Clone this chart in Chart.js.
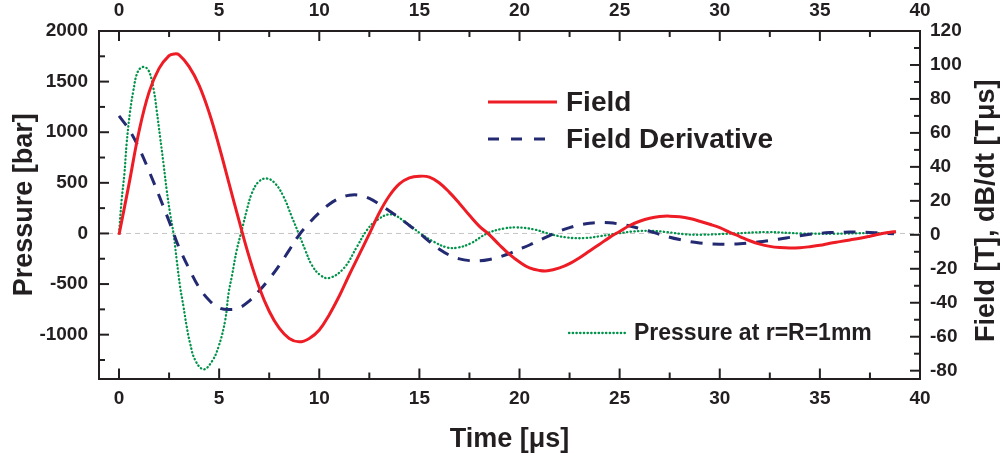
<!DOCTYPE html>
<html>
<head>
<meta charset="utf-8">
<title>Field, field derivative and pressure</title>
<script src="https://cdn.jsdelivr.net/npm/chart.js@4.4.0/dist/chart.umd.min.js"></script>
<style>
  html, body { margin: 0; padding: 0; background: #fff; }
  #wrap { width: 1003px; height: 466px; }
</style>
</head>
<body>
<div id="wrap"><canvas id="pulse-canvas" width="1003" height="466"></canvas></div>
<script>
// Field [T] (right axis)
var fieldTime   = [0, 0.5, 1, 1.5, 2, 2.5, 2.75, 3, 3.5, 4, 4.5, 5, 5.5, 6, 6.5, 7, 7.5, 8, 8.5, 9, 9.5, 10, 10.5, 11, 11.5, 12, 12.5, 13, 13.5, 14, 14.5, 15, 15.5, 16, 16.5, 17, 17.5, 18, 18.5, 19, 19.5, 20, 20.5, 21, 21.4, 22, 22.5, 23, 23.5, 24, 24.5, 25, 25.5, 26, 26.5, 27, 27.5, 28, 28.5, 29, 29.5, 30, 30.5, 31, 31.5, 32, 32.5, 33, 33.5, 34, 34.5, 35, 35.5, 36, 36.5, 37, 37.5, 38, 38.5, 38.8];
var fieldValues = [0, 30, 61, 84, 98, 105.5, 106.5, 106, 99, 88, 72, 52, 30, 8, -13, -31, -45, -55, -61, -63, -61, -56, -47, -36, -23.5, -11.5, 0.5, 13, 23, 30, 33.5, 34.5, 34, 30.5, 25, 18.5, 11.5, 5, 0, -6, -11.5, -16, -19.5, -21, -21.2, -19.5, -17, -13.5, -9.5, -5.5, -1.5, 2, 5.5, 8, 9.8, 10.8, 11, 10.6, 9.6, 8, 6.2, 4.2, 1.5, -1, -3.5, -5.5, -6.8, -7.5, -7.8, -7.6, -7, -6.2, -5, -4, -3, -2, -0.8, 0.5, 1.5, 2];

// dB/dt [T/us] (right axis)
var derivTime   = [0, 0.5, 1, 1.5, 2, 2.5, 2.75, 3, 3.5, 4, 4.5, 5, 5.5, 6, 6.5, 7, 7.5, 8, 8.5, 9, 9.5, 10, 10.5, 11, 11.5, 12, 12.5, 13, 13.5, 14, 14.5, 15, 15.5, 16, 16.5, 17, 17.5, 18, 18.5, 19, 19.5, 20, 20.5, 21, 21.5, 22, 22.5, 23, 23.5, 24, 24.5, 25, 25.5, 26, 26.5, 27, 27.5, 28, 28.5, 29, 29.5, 30, 30.5, 31, 31.5, 32, 32.5, 33, 33.5, 34, 34.5, 35, 35.5, 36, 36.5, 37, 37.5, 38, 38.7];
var derivValues = [70, 62, 51, 37.5, 23, 8, 0, -7.5, -20, -31, -38.5, -43, -44, -43, -39, -33, -26, -18, -9, 0, 7, 13, 18, 21.5, 23.3, 23.3, 21.5, 18, 14, 10, 5.5, 1, -4, -8.5, -12, -14.2, -15.2, -15.3, -14.5, -13, -11, -8.5, -6, -3.2, -0.5, 2.2, 4.2, 5.8, 6.8, 7.3, 7.1, 6.3, 5.2, 3.7, 2.1, 0.3, -1.4, -2.8, -4, -4.8, -5.3, -5.5, -5.5, -5.3, -4.8, -4.1, -3.3, -2.5, -1.5, -0.5, 0.3, 0.9, 1.3, 1.5, 1.6, 1.6, 1.4, 1.1, 0.6];

// Pressure [bar] at r=R=1mm (left axis)
var pressTime   = [0, 0.13, 0.27, 0.38, 0.55, 0.72, 0.93, 1.2, 1.47, 1.72, 1.88, 2.05, 2.22, 2.38, 2.55, 2.72, 2.88, 3.05, 3.22, 3.38, 3.55, 3.8, 4.22, 4.63, 4.97, 5.3, 5.47, 5.63, 5.88, 6.13, 6.38, 6.63, 6.97, 7.38, 7.8, 8.22, 8.63, 8.97, 9.3, 9.63, 10.05, 10.5, 11.22, 11.88, 12.38, 12.88, 13.6, 14.38, 15.05, 15.72, 16.38, 16.88, 17.55, 18.38, 19.22, 19.88, 20.72, 21.55, 22.38, 23.22, 24.05, 24.88, 25.72, 26.55, 27.38, 28.22, 29.05, 30.72, 32.38, 34.05, 35.72, 37.38, 38.72];
var pressValues = [0, 329, 592, 888, 1200, 1415, 1595, 1645, 1612, 1431, 1217, 954, 691, 428, 197, 0, -263, -526, -724, -921, -1086, -1250, -1342, -1267, -1119, -860, -592, -428, -164, 33, 230, 395, 510, 543, 493, 362, 164, 0, -164, -312, -411, -440, -345, -132, 33, 132, 188, 99, 0, -82, -138, -141, -99, 0, 49, 59, 40, -7, -40, -46, -26, 0, 20, 26, 13, -7, -13, 0, 13, 0, -3, 3, 3];

// axis ticks
var timeTicks  = [0, 5, 10, 15, 20, 25, 30, 35, 40];
var timeMinor  = [2.5, 7.5, 12.5, 17.5, 22.5, 27.5, 32.5, 37.5];
var pressTicks = [-1000, -500, 0, 500, 1000, 1500, 2000];
var pressMinor = [-1250, -750, -250, 250, 750, 1250, 1750];
var fieldTicks = [-80, -60, -40, -20, 0, 20, 40, 60, 80, 100, 120];
var fieldMinor = [-70, -50, -30, -10, 10, 30, 50, 70, 90, 110];

var INK = '#231f20';
var FONT = 'Liberation Sans, Arial, Helvetica, sans-serif';
var rightTitle = 'Field [T], dB/dt [T\u03bcs]';

function toPoints(xs, ys) {
    return xs.map(function (x, i) { return {x: x, y: ys[i]}; });
}

function fixedTicks(values) {
    return function (scale) {
        scale.ticks = values.map(function (v) { return {value: v}; });
    };
}

function plain(v) { return String(v); }

// dashed grey line at zero
var zeroLine = {
    id: 'zeroLine',
    beforeDatasetsDraw: function (chart) {
        var ctx = chart.ctx, a = chart.chartArea;
        var y = chart.scales.yPress.getPixelForValue(0);
        ctx.save();
        ctx.strokeStyle = '#c4c4c4';
        ctx.lineWidth = 1;
        ctx.setLineDash([5, 4]);
        ctx.beginPath();
        ctx.moveTo(a.left, y);
        ctx.lineTo(a.right, y);
        ctx.stroke();
        ctx.restore();
    }
};

// tick marks pointing into the plot, plus the right-hand title read bottom to top
var innerTicks = {
    id: 'innerTicks',
    afterDraw: function (chart) {
        var ctx = chart.ctx, a = chart.chartArea, s = chart.scales;
        ctx.save();
        ctx.strokeStyle = INK;
        ctx.lineWidth = 2;
        function marks(scale, values, len, side) {
            values.forEach(function (v) {
                var p = scale.getPixelForValue(v);
                ctx.beginPath();
                if (side === 'bottom') { ctx.moveTo(p, a.bottom); ctx.lineTo(p, a.bottom - len); }
                if (side === 'top')    { ctx.moveTo(p, a.top);    ctx.lineTo(p, a.top + len); }
                if (side === 'left')   { ctx.moveTo(a.left, p);   ctx.lineTo(a.left + len, p); }
                if (side === 'right')  { ctx.moveTo(a.right, p);  ctx.lineTo(a.right - len, p); }
                ctx.stroke();
            });
        }
        marks(s.x, timeTicks, 10, 'bottom');
        marks(s.x, timeMinor, 6, 'bottom');
        marks(s.xTop, timeTicks, 10, 'top');
        marks(s.xTop, timeMinor, 6, 'top');
        marks(s.yPress, pressTicks, 10, 'left');
        marks(s.yPress, pressMinor, 6, 'left');
        marks(s.yField, fieldTicks, 10, 'right');
        marks(s.yField, fieldMinor, 6, 'right');

        ctx.translate(s.yField.right - 16, (a.top + a.bottom) / 2 + 6);
        ctx.rotate(-Math.PI / 2);
        ctx.fillStyle = INK;
        ctx.font = 'bold 27px ' + FONT;
        ctx.textAlign = 'center';
        ctx.textBaseline = 'middle';
        ctx.fillText(rightTitle, 0, 0);
        ctx.restore();
    }
};

// the two legend boxes inside the plot
var legendBoxes = {
    id: 'legendBoxes',
    afterDatasetsDraw: function (chart) {
        var ctx = chart.ctx, ds = chart.data.datasets;
        function entry(d, x1, x2, y, label, dash, size) {
            ctx.save();
            ctx.strokeStyle = d.borderColor;
            ctx.lineWidth = d.borderWidth;
            ctx.lineCap = d.borderCapStyle || 'butt';
            ctx.setLineDash(dash);
            ctx.beginPath();
            ctx.moveTo(x1, y);
            ctx.lineTo(x2, y);
            ctx.stroke();
            ctx.setLineDash([]);
            ctx.fillStyle = INK;
            ctx.font = 'bold ' + size + 'px ' + FONT;
            ctx.textBaseline = 'middle';
            ctx.textAlign = 'left';
            ctx.fillText(label, x2 + 9, y + 1);
            ctx.restore();
        }
        entry(ds[0], 488, 557, 102, ds[0].label, [], 28);
        entry(ds[1], 488, 557, 139, ds[1].label, [11, 12], 28);
        entry(ds[2], 569, 625, 333, ds[2].label, [0.4, 3.3], 23);
    }
};

var tickFont = {family: FONT, size: 19, weight: 'bold'};
var titleFont = {family: FONT, size: 27, weight: 'bold'};
var frame = {display: true, color: INK, width: 2};

new Chart(document.getElementById('pulse-canvas'), {
    type: 'line',
    data: {
        datasets: [
            {
                label: 'Field',
                data: toPoints(fieldTime, fieldValues),
                yAxisID: 'yField',
                borderColor: '#ee1c25',
                borderWidth: 3,
                pointRadius: 0,
                fill: false,
                tension: 0.4
            },
            {
                label: 'Field Derivative',
                data: toPoints(derivTime, derivValues),
                yAxisID: 'yField',
                borderColor: '#232a72',
                borderWidth: 3,
                borderDash: [12, 10],
                pointRadius: 0,
                fill: false,
                tension: 0.4
            },
            {
                label: 'Pressure at r=R=1mm',
                data: toPoints(pressTime, pressValues),
                yAxisID: 'yPress',
                borderColor: '#00934a',
                borderWidth: 2.3,
                borderCapStyle: 'round',
                borderDash: [0.4, 3.3],
                pointRadius: 0,
                fill: false,
                tension: 0.4
            }
        ]
    },
    options: {
        responsive: false,
        animation: false,
        layout: {padding: 0},
        plugins: {legend: {display: false}, tooltip: {enabled: false}},
        scales: {
            x: {
                type: 'linear', position: 'bottom', min: -1, max: 40,
                afterBuildTicks: fixedTicks(timeTicks),
                afterFit: function (scale) { scale.height = 87.5; },
                grid: {display: false, drawTicks: false},
                border: frame,
                ticks: {font: tickFont, color: INK, padding: 9, maxRotation: 0, callback: plain},
                title: {display: true, text: 'Time [\u03bcs]', font: titleFont, color: INK, padding: {top: 0, bottom: 10}}
            },
            xTop: {
                type: 'linear', position: 'top', min: -1, max: 40,
                afterBuildTicks: fixedTicks(timeTicks),
                afterFit: function (scale) { scale.height = 31; },
                grid: {display: false, drawTicks: false},
                border: frame,
                ticks: {font: tickFont, color: INK, padding: 9, maxRotation: 0, callback: plain}
            },
            yPress: {
                type: 'linear', position: 'left', min: -1433, max: 2000,
                afterBuildTicks: fixedTicks(pressTicks),
                afterFit: function (scale) { scale.width = 99; },
                grid: {display: false, drawTicks: false},
                border: frame,
                ticks: {font: tickFont, color: INK, padding: 11, callback: plain},
                title: {display: true, text: 'Pressure [bar]', font: titleFont, color: INK, padding: {top: 8, bottom: 0}}
            },
            yField: {
                type: 'linear', position: 'right', min: -84.6, max: 120,
                afterBuildTicks: fixedTicks(fieldTicks),
                afterFit: function (scale) { scale.width = 83; },
                grid: {display: false, drawTicks: false},
                border: frame,
                ticks: {font: tickFont, color: INK, padding: 10, callback: plain}
            }
        }
    },
    plugins: [zeroLine, innerTicks, legendBoxes]
});
</script>
</body>
</html>
